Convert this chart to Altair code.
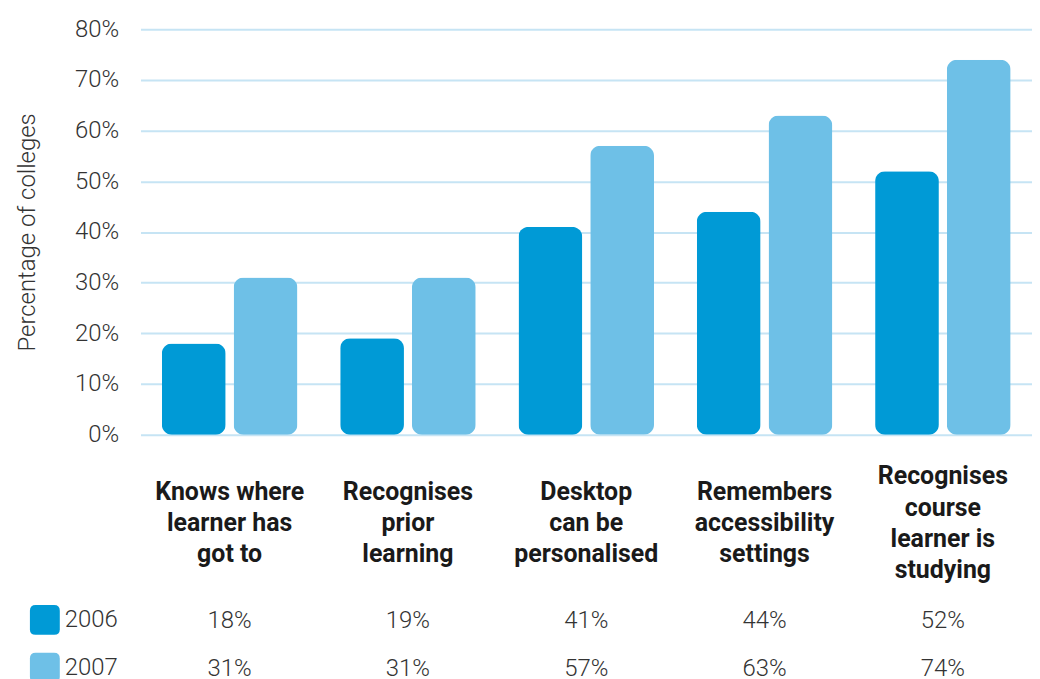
import altair as alt
import pandas as pd

label_lines = [
    ["Knows where", "learner has", "got to"],
    ["Recognises", "prior", "learning"],
    ["Desktop", "can be", "personalised"],
    ["Remembers", "accessibility", "settings"],
    ["Recognises", "course", "learner is", "studying"],
]
categories = [" ".join(l) for l in label_lines]
years = ["2006", "2007"]
values_2006 = [18, 19, 41, 44, 52]
values_2007 = [31, 31, 57, 63, 74]
y_ticks = [0, 10, 20, 30, 40, 50, 60, 70, 80]
colors = ["#009ad6", "#6ec0e7"]

rows = []
for c, a, b in zip(categories, values_2006, values_2007):
    rows.append({"category": c, "year": years[0], "pct": a / 100, "label": f"{a}%"})
    rows.append({"category": c, "year": years[1], "pct": b / 100, "label": f"{b}%"})
df = pd.DataFrame(rows)

line_rows = []
for c, lines in zip(categories, label_lines):
    n = len(lines)
    for i, t in enumerate(lines):
        line_rows.append({"category": c, "line": t, "pos": i - (n - 1) / 2})
df_lines = pd.DataFrame(line_rows)

FONT = "Roboto"
GREY = "#333333"

xscale = alt.Scale(domain=categories, paddingInner=0.24, paddingOuter=0.12)

rounded_square = ("M -0.62,-1 L 0.62,-1 Q 1,-1 1,-0.62 L 1,0.62 Q 1,1 0.62,1 "
                  "L -0.62,1 Q -1,1 -1,0.62 L -1,-0.62 Q -1,-1 -0.62,-1 Z")

bars = alt.Chart(df).mark_bar(cornerRadius=10).encode(
    x=alt.X("category:N", sort=categories, scale=xscale, axis=None),
    xOffset=alt.XOffset("year:N", scale=alt.Scale(domain=years, paddingInner=0.111, paddingOuter=0)),
    y=alt.Y("pct:Q", scale=alt.Scale(domain=[0, 0.8], nice=False),
            axis=alt.Axis(values=[t / 100 for t in y_ticks], format=".0%",
                          title="Percentage of colleges", titleFontSize=24, titleFont=FONT,
                          titleFontWeight=300, titleColor=GREY, titlePadding=35,
                          labelFontSize=24, labelFont=FONT, labelFontWeight=300,
                          labelColor=GREY, labelPadding=22,
                          gridColor="#c6e4f4", gridWidth=2, domain=False, ticks=False)),
    color=alt.Color("year:N", scale=alt.Scale(domain=years, range=colors),
                    legend=alt.Legend(title=None, orient="none", legendX=-111, legendY=578,
                                      symbolType=rounded_square, symbolSize=900,
                                      symbolStrokeWidth=0, symbolOpacity=1,
                                      labelFontSize=24, labelFont=FONT, labelFontWeight=300,
                                      labelColor=GREY, labelOffset=5, rowPadding=18)),
).properties(width=895, height=407)

labels = alt.Chart(df_lines).mark_text(fontSize=25, font=FONT, fontWeight="bold",
                                       color="#1a1a1a").encode(
    x=alt.X("category:N", sort=categories, scale=xscale, axis=None),
    y=alt.Y("pos:Q", scale=alt.Scale(domain=[-1.5, 1.5], reverse=True, nice=False, zero=False),
            axis=None),
    text="line:N",
).properties(width=895, height=94)

table = alt.Chart(df).mark_text(fontSize=24, font=FONT, fontWeight=300, color=GREY).encode(
    x=alt.X("category:N", sort=categories, scale=xscale, axis=None),
    y=alt.Y("year:N", scale=alt.Scale(type="point", domain=years, padding=0), axis=None),
    text="label:N",
).properties(width=895, height=48)

chart = alt.vconcat(
    bars,
    alt.vconcat(labels, table, spacing=26),
    spacing=18,
).properties(
    padding={"left": 7, "top": 8, "right": 0, "bottom": 0}
).configure_view(stroke=None)

chart.save("out.html", embed_options={"renderer": "svg", "actions": False})
